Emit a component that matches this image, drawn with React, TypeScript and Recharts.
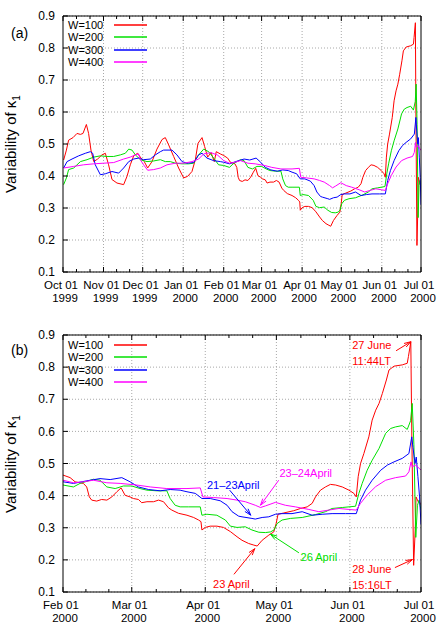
import React from 'react';
import {
  LineChart,
  Line,
  XAxis,
  YAxis,
  CartesianGrid,
  ReferenceLine,
  ReferenceDot,
} from 'recharts';

// x values are days counted from 1999-10-01
const MONTHS_A = [0, 31, 61, 92, 123, 152, 183, 213, 244, 274];
const MONTH_NAMES_A = ['Oct 01', 'Nov 01', 'Dec 01', 'Jan 01', 'Feb 01', 'Mar 01', 'Apr 01', 'May 01', 'Jun 01', 'Jul 01'];
const YEARS_A = ['1999', '1999', '1999', '2000', '2000', '2000', '2000', '2000', '2000', '2000'];

const MONTHS_B = [123, 152, 183, 213, 244, 274];
const MONTH_NAMES_B = ['Feb 01', 'Mar 01', 'Apr 01', 'May 01', 'Jun 01', 'Jul 01'];
const YEARS_B = ['2000', '2000', '2000', '2000', '2000', '2000'];

const Y_TICKS = [0.1, 0.2, 0.3, 0.4, 0.5, 0.6, 0.7, 0.8, 0.9];

const SERIES_NAMES = ['W=100', 'W=200', 'W=300', 'W=400'];

const W100: [number, number][] = [
  [0.5, 0.45], [2.6, 0.481], [4.3, 0.512], [7.7, 0.52], [10.7, 0.533], [13.3, 0.53], [15.3, 0.533],
  [17.9, 0.561], [19.6, 0.533], [21.4, 0.481], [23.5, 0.445], [26.5, 0.453], [29.8, 0.466], [32.4, 0.471],
  [34.9, 0.435], [37.5, 0.389], [41.3, 0.378], [46.4, 0.373], [49, 0.399], [51.5, 0.435], [54.1, 0.463],
  [57.1, 0.471], [59.7, 0.456], [62.2, 0.445], [64.8, 0.425], [68.1, 0.445], [71.9, 0.484], [75.8, 0.514],
  [78.3, 0.52], [80.9, 0.497], [84.7, 0.461], [88.5, 0.425], [92.3, 0.394], [95.4, 0.399], [98.7, 0.414],
  [101.3, 0.451], [103.3, 0.502], [106.4, 0.52], [108.4, 0.492], [110.7, 0.459], [113.3, 0.473],
  [115.8, 0.445], [117.3, 0.476], [120.4, 0.469], [123, 0.464], [126, 0.456], [128.1, 0.443],
  [131.6, 0.438], [133, 0.427], [134.1, 0.396], [135.1, 0.386], [137.2, 0.383], [139.3, 0.388],
  [141.5, 0.386], [143.6, 0.396], [145.7, 0.412], [147.5, 0.424], [149.2, 0.401], [151.3, 0.396],
  [152.7, 0.391], [154.8, 0.388], [156.2, 0.378], [158.4, 0.381], [161.2, 0.381], [163.3, 0.386],
  [165.4, 0.381], [167.5, 0.362], [168.9, 0.355], [171.7, 0.345], [175.3, 0.339], [178.1, 0.332],
  [180.2, 0.324], [181.2, 0.319], [181.6, 0.293], [183, 0.301], [185.1, 0.305], [187.9, 0.305],
  [190.7, 0.301], [193.6, 0.288], [196.4, 0.272], [198.5, 0.261], [201.3, 0.251], [203.5, 0.246],
  [204.9, 0.243], [207, 0.261], [209.8, 0.277], [211.9, 0.287], [212.9, 0.313], [213.7, 0.342],
  [216.1, 0.346], [220.3, 0.353], [223.2, 0.36], [226, 0.365], [228.1, 0.376], [229.5, 0.396],
  [231.6, 0.417], [233.7, 0.427], [235.8, 0.435], [238, 0.433], [240.8, 0.427], [243.6, 0.417],
  [245.7, 0.407], [246.7, 0.396], [247.5, 0.459], [248.5, 0.5], [249.9, 0.531], [252, 0.583],
  [253.4, 0.635], [254.9, 0.666], [256.3, 0.687], [257.7, 0.718], [259.4, 0.76], [260.5, 0.791],
  [262.6, 0.803], [266.1, 0.807], [268.2, 0.812], [268.7, 0.833], [269.7, 0.879], [270.1, 0.6],
  [270.9, 0.183], [271.6, 0.3], [271.9, 0.396], [272.9, 0.38], [273.9, 0.376], [274, 0.37],
];

const W200: [number, number][] = [
  [0.5, 0.373], [2.6, 0.394], [4.3, 0.42], [8.2, 0.425], [13.3, 0.445], [18.4, 0.451], [23.5, 0.459],
  [28.6, 0.463], [33.7, 0.461], [38.8, 0.461], [43.9, 0.466], [47.7, 0.471], [50.3, 0.484], [52.8, 0.481],
  [55.4, 0.466], [59.2, 0.451], [64.3, 0.445], [69.4, 0.447], [74.5, 0.451], [78.3, 0.445], [82.1, 0.445],
  [86, 0.44], [91.1, 0.438], [96.2, 0.438], [100, 0.44], [103.8, 0.466], [107.7, 0.484], [111.5, 0.476],
  [115.3, 0.456], [119.1, 0.435], [123, 0.433], [127.4, 0.427], [130.2, 0.438], [135.8, 0.451],
  [138.6, 0.448], [141.5, 0.427], [145, 0.422], [148.5, 0.43], [152, 0.43], [155.5, 0.422], [158.4, 0.417],
  [162.6, 0.415], [166.8, 0.415], [168.2, 0.391], [170.3, 0.37], [172.4, 0.365], [176, 0.365],
  [180.9, 0.365], [181.6, 0.339], [183.7, 0.342], [187.9, 0.339], [191.5, 0.324], [193.6, 0.305],
  [196.4, 0.301], [199.9, 0.303], [202.7, 0.293], [205.6, 0.286], [208.4, 0.285], [210.5, 0.287],
  [212, 0.293], [213.3, 0.313], [215.4, 0.324], [218.9, 0.329], [223.9, 0.332], [229.5, 0.341],
  [233.7, 0.35], [236.5, 0.36], [240.8, 0.363], [246.4, 0.367], [247.8, 0.407], [249.2, 0.438],
  [251.3, 0.479], [253.4, 0.51], [256.3, 0.547], [259.1, 0.594], [261.2, 0.609], [263.3, 0.614],
  [266.1, 0.618], [268.2, 0.606], [269.6, 0.633], [270.3, 0.687], [271, 0.56], [271.8, 0.27],
  [272.5, 0.37], [273.2, 0.386], [274, 0.355],
];

const W300: [number, number][] = [
  [0.5, 0.425], [3.1, 0.445], [6.9, 0.453], [12, 0.463], [17.1, 0.471], [20.9, 0.476], [22.7, 0.471],
  [24.7, 0.435], [28.6, 0.404], [32.4, 0.407], [37.5, 0.414], [42.6, 0.409], [46.4, 0.425], [50.3, 0.445],
  [54.1, 0.453], [57.9, 0.456], [61.7, 0.451], [66.8, 0.453], [70.7, 0.466], [74.5, 0.476], [77, 0.481],
  [83.4, 0.481], [87.2, 0.466], [91.1, 0.445], [94.9, 0.44], [100, 0.442], [103.8, 0.466], [106.4, 0.471],
  [110.2, 0.456], [115.3, 0.448], [120.4, 0.445], [123, 0.443], [127.4, 0.438], [133, 0.446],
  [138.6, 0.453], [142.9, 0.45], [147.8, 0.456], [151.3, 0.443], [154.8, 0.427], [159.1, 0.419],
  [164, 0.415], [168.2, 0.419], [172.4, 0.417], [175.3, 0.412], [178.8, 0.407], [181.6, 0.391],
  [185.1, 0.391], [189.3, 0.384], [192.2, 0.37], [194.3, 0.35], [197.1, 0.336], [198.5, 0.334],
  [202.7, 0.329], [204.1, 0.327], [207, 0.332], [209.8, 0.334], [212.6, 0.342], [215.4, 0.344],
  [219.6, 0.344], [223.9, 0.35], [228.1, 0.339], [232.3, 0.342], [236.5, 0.344], [242.2, 0.344],
  [246.7, 0.344], [248.5, 0.386], [250.6, 0.417], [253.4, 0.448], [257, 0.479], [259.8, 0.495],
  [262.6, 0.505], [266.1, 0.516], [268.9, 0.531], [270.1, 0.583], [270.6, 0.55], [271.5, 0.5],
  [272, 0.52], [272.7, 0.459], [273.4, 0.396], [274, 0.31],
];

const W400: [number, number][] = [
  [0.5, 0.425], [8.2, 0.43], [15.8, 0.435], [23.5, 0.438], [31.1, 0.44], [38.8, 0.442], [46.4, 0.453],
  [51.5, 0.459], [55.4, 0.466], [57.9, 0.469], [59.2, 0.451], [61.7, 0.435], [64.8, 0.418], [69.4, 0.42],
  [74.5, 0.425], [79.6, 0.435], [86, 0.44], [92.3, 0.44], [98.7, 0.445], [103.8, 0.453], [107.7, 0.469],
  [113.3, 0.473], [118.4, 0.465], [123, 0.448], [127.4, 0.44], [131.6, 0.443], [135.8, 0.448],
  [141.5, 0.44], [147.1, 0.438], [154.1, 0.433], [159.8, 0.427], [166.8, 0.422], [175.3, 0.422],
  [180.9, 0.424], [182, 0.396], [186.5, 0.394], [192.2, 0.391], [196.4, 0.386], [199.9, 0.381],
  [204.1, 0.37], [206.3, 0.363], [208.4, 0.368], [212.6, 0.379], [216.8, 0.37], [221, 0.365],
  [226.7, 0.357], [230.9, 0.35], [235.1, 0.355], [239.4, 0.36], [243.6, 0.357], [246.7, 0.355],
  [248.5, 0.376], [251.3, 0.402], [254.9, 0.428], [259.1, 0.448], [263.3, 0.456], [267.5, 0.461],
  [268.9, 0.474], [269.8, 0.505], [270.3, 0.49], [271.8, 0.495], [273.2, 0.485], [274, 0.48],
];

const SERIES = [W100, W200, W300, W400];

const FONT = '"Liberation Sans", Arial, Helvetica, sans-serif';
const RED = '#ff0000';
const GREEN = '#00e000';
const BLUE = '#0000ff';
const MAGENTA = '#ff00ff';
const COLORS = [RED, GREEN, BLUE, MAGENTA];

// annotations of panel (b), in data coordinates
const NOTES_B = [
  { t: 245, v: 0.869, text: '27 June', color: RED },
  { t: 245, v: 0.82, text: '11:44LT', color: RED },
  { t: 245, v: 0.17, text: '28 June', color: RED },
  { t: 245, v: 0.121, text: '15:16LT', color: RED },
  { t: 214.3, v: 0.469, text: '23\u201324April', color: MAGENTA },
  { t: 183.7, v: 0.433, text: '21\u201323April', color: BLUE },
  { t: 223.2, v: 0.209, text: '26 April', color: GREEN },
  { t: 186.3, v: 0.124, text: '23 April', color: RED },
];

const ARROWS_B = [
  { from: [263.5, 0.851], to: [269.7, 0.879], color: RED },
  { from: [263, 0.176], to: [270.4, 0.201], color: RED },
  { from: [214, 0.448], to: [206.3, 0.37], color: MAGENTA },
  { from: [193.3, 0.417], to: [202.2, 0.339], color: BLUE },
  { from: [222.5, 0.222], to: [210.5, 0.28], color: GREEN },
  { from: [195.1, 0.155], to: [203.9, 0.235], color: RED },
];

type Note = (typeof NOTES_B)[number];
type Arrow = (typeof ARROWS_B)[number];

const toPoints = (arr: [number, number][]) => arr.map(([t, v]) => ({ t, v }));

// gnuplot-style: two minor ticks between each pair of major ticks
function withMinor(days: number[]) {
  const out: number[] = [];
  for (let i = 0; i < days.length; i++) {
    out.push(days[i]);
    if (i < days.length - 1) {
      const step = (days[i + 1] - days[i]) / 3;
      out.push(days[i] + step, days[i] + 2 * step);
    }
  }
  return out;
}

const arrowShape = (color: string) => (props: any) => {
  const { x1, y1, x2, y2 } = props;
  const a = Math.atan2(y2 - y1, x2 - x1);
  const len = 7;
  const spread = 0.3;
  const hx1 = x2 - len * Math.cos(a - spread);
  const hy1 = y2 - len * Math.sin(a - spread);
  const hx2 = x2 - len * Math.cos(a + spread);
  const hy2 = y2 - len * Math.sin(a + spread);
  return (
    <g>
      <line x1={x1} y1={y1} x2={x2} y2={y2} stroke={color} strokeWidth={1} />
      <polyline points={`${hx1},${hy1} ${x2},${y2} ${hx2},${hy2}`} fill="none" stroke={color} strokeWidth={1} />
    </g>
  );
};

const noteShape = (n: Note) => (props: any) => (
  <text x={props.cx} y={props.cy} dy="0.35em" fill={n.color} fontFamily={FONT} fontSize={11}>
    {n.text}
  </text>
);

interface PanelProps {
  tag: string;
  tagY: number;
  top: number;
  height: number;
  marginTop: number;
  xAxisHeight: number;
  domain: [number, number];
  months: number[];
  monthNames: string[];
  years: string[];
  notes?: Note[];
  arrows?: Arrow[];
}

function Panel(p: PanelProps) {
  const allTicks = withMinor(p.months);
  const majorIndex = (v: number) => p.months.findIndex((m) => Math.abs(m - v) < 1e-6);
  const plotTop = p.marginTop + 1;
  const plotBottom = p.height - p.xAxisHeight;
  const plotMid = (plotTop + plotBottom) / 2;

  const BottomTick = (props: any) => {
    const { x, y, payload } = props;
    const i = majorIndex(payload.value);
    return (
      <g>
        <line x1={x} x2={x} y1={y} y2={y - (i >= 0 ? 5 : 3)} stroke="#000" />
        {i >= 0 && (
          <text fontFamily={FONT} fontSize={11.5} fill="#000" textAnchor="middle">
            <tspan x={x - 2} y={y + 17}>{p.monthNames[i]}</tspan>
            <tspan x={x + 2} y={y + 29.5}>{p.years[i]}</tspan>
          </text>
        )}
      </g>
    );
  };

  const TopTick = (props: any) => {
    const { x, y, payload } = props;
    const major = majorIndex(payload.value) >= 0;
    return <line x1={x} x2={x} y1={y} y2={y + (major ? 5 : 3)} stroke="#000" />;
  };

  const LeftTick = (props: any) => {
    const { x, y, payload } = props;
    return (
      <g>
        <line x1={x} x2={x + 5} y1={y} y2={y} stroke="#000" />
        <text x={x - 8} y={y} dy="0.35em" textAnchor="end" fontFamily={FONT} fontSize={12} fill="#000">
          {payload.value.toFixed(1)}
        </text>
      </g>
    );
  };

  const RightTick = (props: any) => {
    const { x, y } = props;
    return <line x1={x} x2={x - 5} y1={y} y2={y} stroke="#000" />;
  };

  return (
    <div style={{ position: 'absolute', left: 0, top: p.top, width: 442, height: p.height }}>
      <LineChart
        width={442}
        height={p.height}
        margin={{ top: p.marginTop, right: 20, bottom: 0, left: 0 }}
      >
        <CartesianGrid vertical={false} stroke="#a8a8a8" strokeDasharray="1 2" />
        {p.months.slice(1, -1).map((m) => (
          <ReferenceLine key={`g${m}`} x={m} stroke="#a8a8a8" strokeDasharray="1 2" />
        ))}
        <XAxis
          dataKey="t"
          type="number"
          domain={p.domain}
          allowDataOverflow
          ticks={allTicks}
          interval={0}
          height={p.xAxisHeight}
          tickSize={0}
          tickMargin={0}
          tickLine={false}
          tick={BottomTick}
          stroke="#000"
        />
        <XAxis
          xAxisId="top"
          orientation="top"
          dataKey="t"
          type="number"
          domain={p.domain}
          allowDataOverflow
          ticks={allTicks}
          interval={0}
          height={1}
          tickSize={0}
          tickMargin={0}
          tickLine={false}
          tick={TopTick}
          stroke="#000"
        />
        <YAxis
          type="number"
          domain={[0.1, 0.9]}
          ticks={Y_TICKS}
          interval={0}
          width={63}
          tickSize={0}
          tickMargin={0}
          tickLine={false}
          tick={LeftTick}
          stroke="#000"
        />
        <YAxis
          yAxisId="right"
          orientation="right"
          type="number"
          domain={[0.1, 0.9]}
          ticks={Y_TICKS}
          interval={0}
          width={1}
          tickSize={0}
          tickMargin={0}
          tickLine={false}
          tick={RightTick}
          stroke="#000"
        />
        {SERIES.map((s, i) => (
          <Line
            key={SERIES_NAMES[i]}
            data={toPoints(s)}
            dataKey="v"
            name={SERIES_NAMES[i]}
            type="linear"
            stroke={COLORS[i]}
            strokeWidth={1}
            dot={false}
            activeDot={false}
            isAnimationActive={false}
          />
        ))}
        {(p.arrows ?? []).map((a, i) => (
          <ReferenceLine
            key={`a${i}`}
            segment={[
              { x: a.from[0], y: a.from[1] },
              { x: a.to[0], y: a.to[1] },
            ]}
            ifOverflow="visible"
            shape={arrowShape(a.color)}
          />
        ))}
        {(p.notes ?? []).map((n, i) => (
          <ReferenceDot key={`n${i}`} x={n.t} y={n.v} r={0} ifOverflow="visible" shape={noteShape(n)} />
        ))}
      </LineChart>

      {/* key, top-left inside the frame */}
      <svg width={160} height={80} style={{ position: 'absolute', left: 0, top: 0 }}>
        {SERIES_NAMES.map((name, i) => {
          const y = Math.round(25 + 12.3 * i);
          return (
            <g key={name}>
              <text x={68} y={y} dy="0.35em" fontFamily={FONT} fontSize={11} fill="#000">
                {name}
              </text>
              <line x1={114} x2={147} y1={y} y2={y} stroke={COLORS[i]} strokeWidth={1.3} />
            </g>
          );
        })}
      </svg>

      <div
        style={{
          position: 'absolute',
          left: 11,
          top: p.tagY - 9,
          lineHeight: '18px',
          fontFamily: FONT,
          fontSize: 14,
        }}
      >
        {p.tag}
      </div>

      <div
        style={{
          position: 'absolute',
          left: 11 - 100,
          top: plotMid - 10,
          width: 200,
          height: 20,
          lineHeight: '20px',
          textAlign: 'center',
          transform: 'rotate(-90deg)',
          fontFamily: FONT,
          fontSize: 15,
          whiteSpace: 'nowrap',
        }}
      >
        Variability of κ<sub style={{ fontSize: 10 }}>1</sub>
      </div>
    </div>
  );
}

export default function App() {
  return (
    <div
      style={{
        position: 'fixed',
        left: 0,
        top: 0,
        width: 442,
        height: 629,
        overflow: 'hidden',
        background: '#fff',
      }}
    >
      <Panel
        tag="(a)"
        tagY={33}
        top={0}
        height={310}
        marginTop={15}
        xAxisHeight={38}
        domain={[0, 274]}
        months={MONTHS_A}
        monthNames={MONTH_NAMES_A}
        years={YEARS_A}
      />
      <Panel
        tag="(b)"
        tagY={29.5}
        top={320}
        height={309}
        marginTop={14}
        xAxisHeight={37}
        domain={[123, 274]}
        months={MONTHS_B}
        monthNames={MONTH_NAMES_B}
        years={YEARS_B}
        notes={NOTES_B}
        arrows={ARROWS_B}
      />
    </div>
  );
}
